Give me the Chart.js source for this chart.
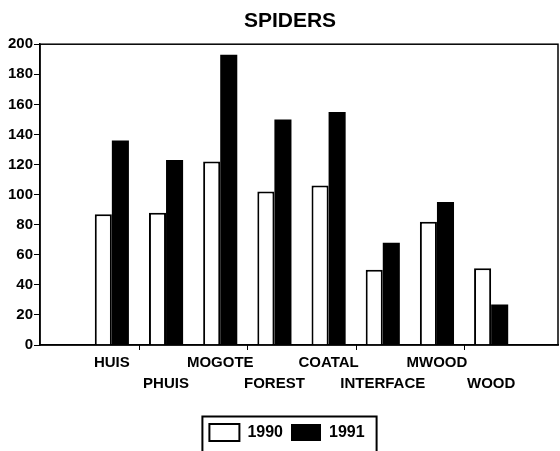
<!DOCTYPE html>
<html>
<head>
<meta charset="utf-8">
<script src="https://cdn.jsdelivr.net/npm/chart.js@4/dist/chart.umd.min.js"></script>
<style>
  html, body { margin: 0; padding: 0; background: #fff; }
  #wrap { width: 560px; height: 451px; }
</style>
</head>
<body>
<div id="wrap"><canvas id="barChart" width="560" height="451"></canvas></div>
<script>
const sites = ['HUIS', 'PHUIS', 'MOGOTE', 'FOREST', 'COATAL', 'INTERFACE', 'MWOOD', 'WOOD'];
const spiders1990 = [87, 88, 122, 102, 106, 50, 82, 51];
const spiders1991 = [136, 123, 193, 150, 155, 68, 95, 27];
const yTicks = [0, 20, 40, 60, 80, 100, 120, 140, 160, 180, 200];

const FONT = '"Liberation Sans", Arial, Helvetica, sans-serif';

// box around the plot, and the little ticks between every second pair
const framePlugin = {
    id: 'frame',
    afterLayout(chart) {
        // title and legend sit a little right of the canvas centre in the original
        chart.titleBlock.left += 11;
        chart.titleBlock.right += 11;
        chart.legend.left += 8;
        chart.legend.right += 8;
    },
    afterDraw(chart) {
        const c = chart.ctx;
        const a = chart.chartArea;
        c.save();
        c.strokeStyle = '#000';
        c.lineWidth = 1.5;
        c.strokeRect(a.left, a.top, a.right - a.left, a.bottom - a.top);
        const x = chart.scales.x;
        c.lineWidth = 1;
        for (let i = 0; i < sites.length - 1; i += 2) {
            const px = Math.round(x.getPixelForValue(i + 0.5)) + 0.5;
            c.beginPath();
            c.moveTo(px, a.bottom);
            c.lineTo(px, a.bottom + 5);
            c.stroke();
        }
        // legend border
        const hb = chart.legend.legendHitBoxes;
        if (hb && hb.length) {
            const first = hb[0], last = hb[hb.length - 1];
            const left = first.left - 7;
            const right = last.left + last.width + 12;
            const top = chart.legend.top + 0.5;
            c.lineWidth = 2;
            c.strokeRect(left, top, right - left, chart.height + 10 - top);
        }
        c.restore();
    }
};

const ctx = document.getElementById('barChart').getContext('2d');

const barChart = new Chart(ctx, {
    type: 'bar',
    data: {
        datasets: [{
            label: '1990',
            data: spiders1990.map((v, i) => ({ x: i, y: v })),
            backgroundColor: '#ffffff',
            borderColor: '#000000',
            borderWidth: 2
        },
        {
            label: '1991',
            data: spiders1991.map((v, i) => ({ x: i, y: v })),
            backgroundColor: '#000000',
            borderColor: '#000000',
            borderWidth: 0
        }]
    },
    options: {
        responsive: false,
        animation: false,
        devicePixelRatio: 1,
        categoryPercentage: 0.63,
        barPercentage: 1.0,
        layout: { padding: { left: 0, right: 2, top: 0, bottom: 0 } },
        plugins: {
            title: {
                display: true,
                text: 'SPIDERS',
                color: '#000',
                font: { family: FONT, size: 21, weight: 'bold', lineHeight: 1.2 },
                padding: { top: 9, bottom: 10 }
            },
            legend: {
                display: true,
                position: 'bottom',
                labels: {
                    color: '#000',
                    boxWidth: 30,
                    boxHeight: 17,
                    padding: 8,
                    font: { family: FONT, size: 16, weight: 'bold' }
                }
            },
            tooltip: { enabled: false }
        },
        scales: {
            x: {
                type: 'linear',
                offset: false,
                min: -1.326,
                max: 8.234,
                afterBuildTicks(scale) {
                    scale.ticks = sites.map((s, i) => ({ value: i }));
                },
                afterFit(scale) { scale.height = 71; },
                grid: { display: false, drawTicks: false, offset: false },
                border: { display: true, color: '#000', width: 1.5 },
                ticks: {
                    autoSkip: false,
                    maxRotation: 0,
                    padding: 7,
                    color: '#000',
                    font: { family: FONT, size: 15, weight: 'bold', lineHeight: 1.43 },
                    callback(value) {
                        const i = Math.round(value);
                        return i % 2 === 0 ? [sites[i], ''] : ['', sites[i]];
                    }
                }
            },
            y: {
                min: 0,
                max: 200,
                afterBuildTicks(scale) {
                    scale.ticks = yTicks.map(v => ({ value: v }));
                },
                afterFit(scale) { scale.width = 40; },
                grid: { drawOnChartArea: false, drawTicks: true, tickLength: 6, color: '#000', lineWidth: 1 },
                border: { display: true, color: '#000', width: 1.5 },
                ticks: {
                    padding: 1,
                    color: '#000',
                    font: { family: FONT, size: 15, weight: 'bold' }
                }
            }
        }
    },
    plugins: [framePlugin]
});
</script>
</body>
</html>
